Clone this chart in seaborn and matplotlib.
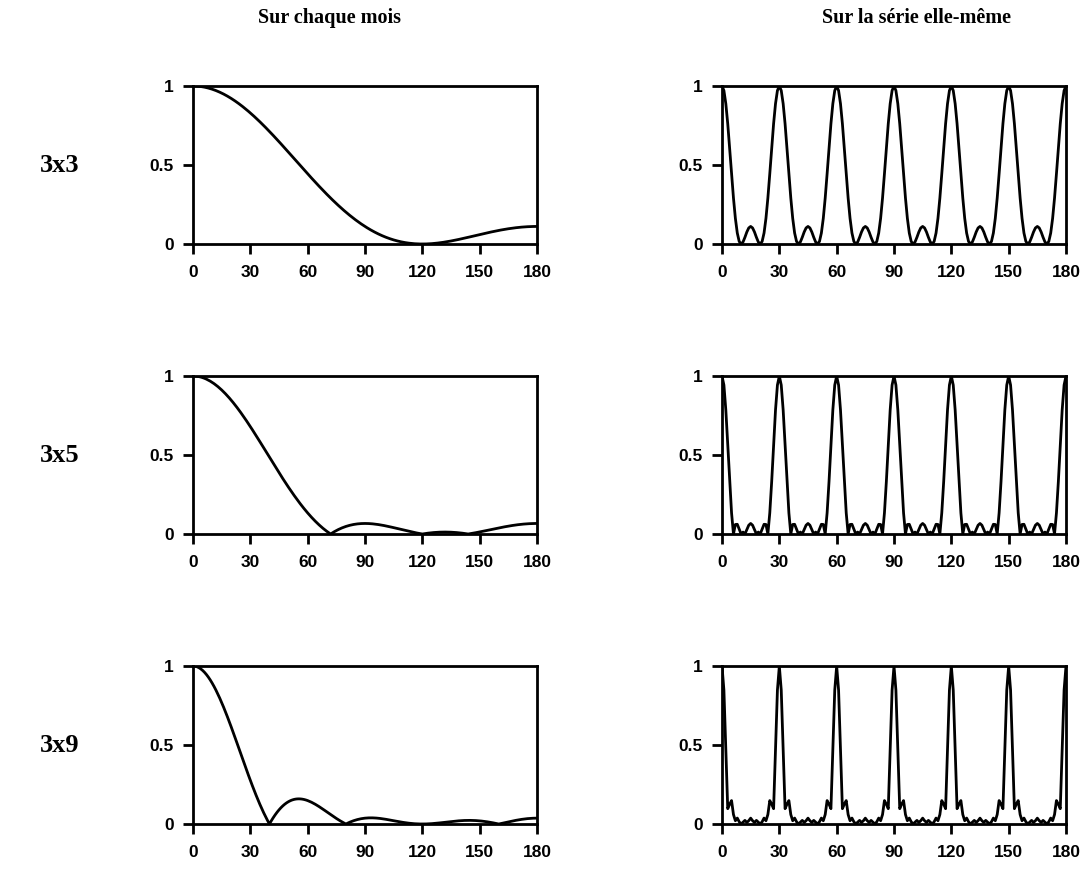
import numpy as np
import pandas as pd
import matplotlib
matplotlib.use("Agg")
import matplotlib.pyplot as plt
import seaborn as sns

# ---- data: seasonal moving-average filters (weights) ----
filter_names = ["3x3", "3x5", "3x9"]
weights_3x3 = [1, 2, 3, 2, 1]                      # /9
weights_3x5 = [1, 2, 3, 3, 3, 2, 1]                # /15
weights_3x9 = [1, 2, 3, 3, 3, 3, 3, 3, 3, 2, 1]    # /27
filter_weights = [weights_3x3, weights_3x5, weights_3x9]
column_titles = ["Sur chaque mois", "Sur la série elle-même"]
season_lag = [1, 12]            # lag on each month vs. on the series itself
freq_deg = list(range(0, 181))  # frequency axis in degrees
x_ticks = [0, 30, 60, 90, 120, 150, 180]
y_ticks = [0, 0.5, 1]
y_ticklabels = ["0", "0.5", "1"]


def gain(weights, lag, freqs):
    w = np.asarray(weights, dtype=float)
    w = w / w.sum()
    k = np.arange(len(w)) - (len(w) - 1) / 2
    om = np.deg2rad(np.asarray(freqs, dtype=float))[:, None] * lag
    return np.abs((w[None, :] * np.exp(-1j * om * k[None, :])).sum(axis=1))


sns.set_style("white")
plt.rcParams["font.family"] = ["Liberation Sans", "DejaVu Sans"]
plt.rcParams["text.color"] = "black"
plt.rcParams["xtick.color"] = "black"
plt.rcParams["ytick.color"] = "black"
plt.rcParams["axes.labelcolor"] = "black"

fig = plt.figure(figsize=(10.86, 8.73), dpi=100)
W, H = 1086, 873
col_left = [193, 722]
ax_w = 344
row_top = [86, 376, 666]
ax_h = 158

for r, (name, wts) in enumerate(zip(filter_names, filter_weights)):
    for c in range(2):
        ax = fig.add_axes([col_left[c] / W, 1 - (row_top[r] + ax_h) / H, ax_w / W, ax_h / H])
        df = pd.DataFrame({"freq": freq_deg, "gain": gain(wts, season_lag[c], freq_deg)})
        sns.lineplot(data=df, x="freq", y="gain", ax=ax, color="black", linewidth=2.0)
        ax.set_xlim(0, 180)
        ax.set_ylim(0, 1)
        ax.set_xticks(x_ticks)
        ax.set_yticks(y_ticks)
        ax.set_yticklabels(y_ticklabels)
        ax.set_xlabel("")
        ax.set_ylabel("")
        for sp in ax.spines.values():
            sp.set_visible(True)
            sp.set_color("black")
            sp.set_linewidth(2.0)
        ax.tick_params(axis="both", direction="out", length=7, width=2, color="black",
                       labelcolor="black", labelsize=12.5, bottom=True, left=True)
        ax.tick_params(axis="y", pad=7)
        ax.tick_params(axis="x", pad=8)
        for lab in ax.get_xticklabels() + ax.get_yticklabels():
            lab.set_fontweight("bold")
    fig.text(60 / W, 1 - (row_top[r] + 80) / H, name, ha="center", va="center", color="black",
             fontsize=19, fontweight="bold", family=["Liberation Serif", "DejaVu Serif"])

title_x = [330, 916]
for c in range(2):
    fig.text(title_x[c] / W, 1 - 18 / H, column_titles[c], ha="center", va="center", color="black",
             fontsize=14.5, fontweight="bold", family=["Liberation Serif", "DejaVu Serif"])

fig.savefig("out.png", dpi=100)
